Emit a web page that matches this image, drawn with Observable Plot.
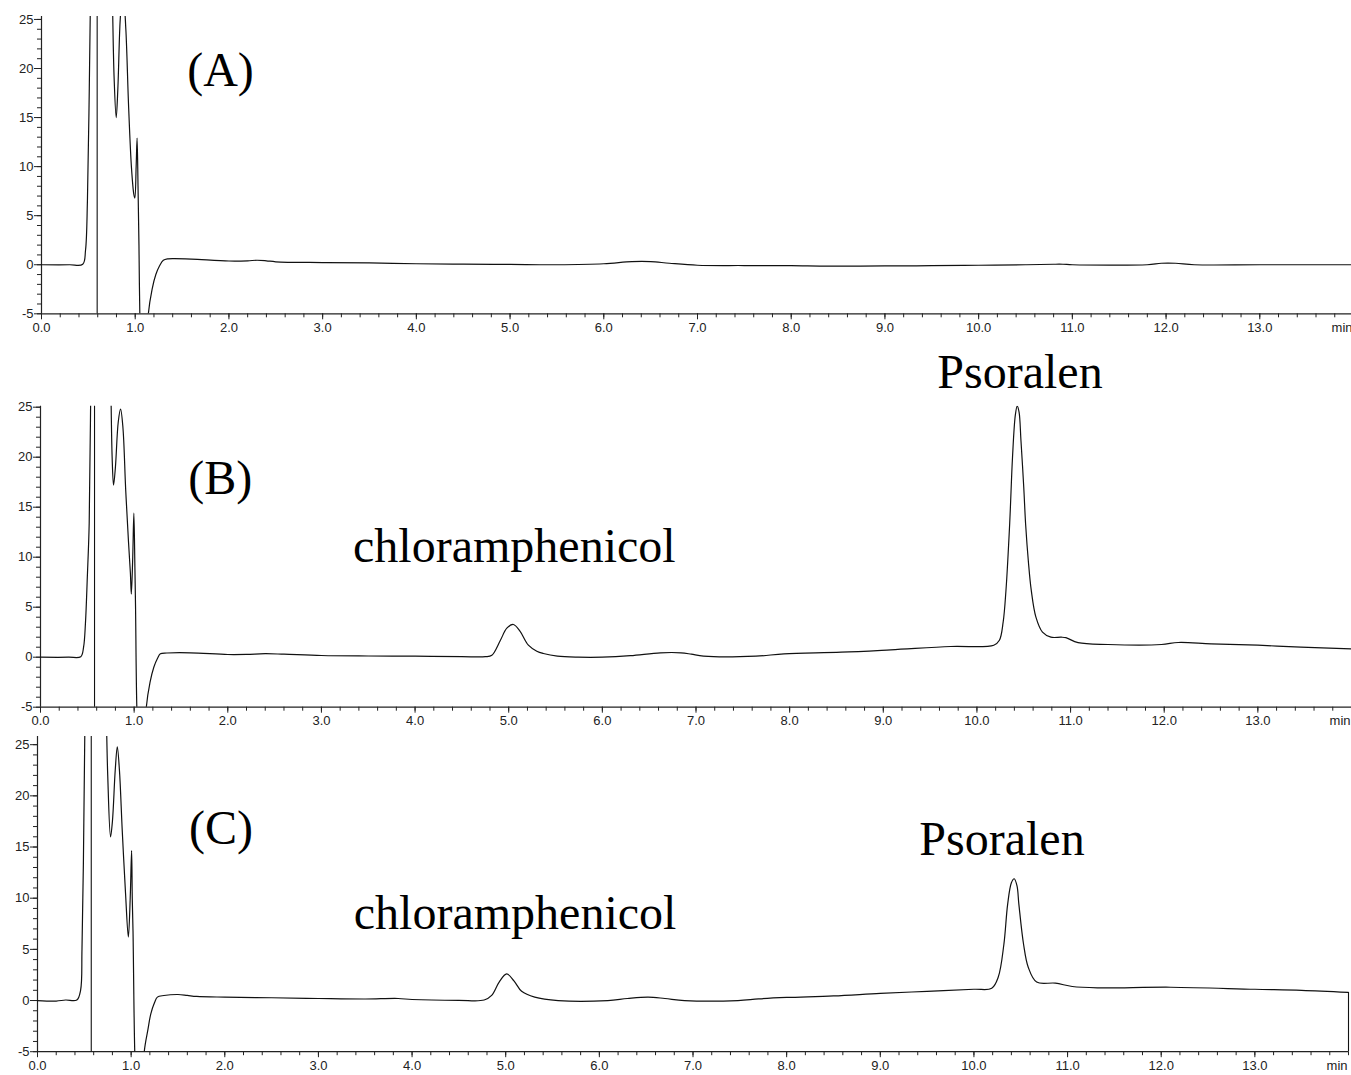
<!DOCTYPE html>
<html>
<head>
<meta charset="utf-8">
<script src="https://cdn.jsdelivr.net/npm/d3@7"></script>
<script src="https://cdn.jsdelivr.net/npm/@observablehq/plot@0.6"></script>
<style>
  html, body { margin: 0; padding: 0; background: white; }
  #wrap { position: relative; width: 1351px; height: 1075px; overflow: hidden; background: white; }
  #wrap > div { position: absolute; left: 0; }
</style>
</head>
<body>
<div id="wrap">
  <div id="pa" style="top:0px"></div>
  <div id="pb" style="top:340px"></div>
  <div id="pc" style="top:730px"></div>
</div>
<script>
// ---------- data ----------
const xTickValues = [0,1,2,3,4,5,6,7,8,9,10,11,12,13];
const xTickLabels = ["0.0","1.0","2.0","3.0","4.0","5.0","6.0","7.0","8.0","9.0","10.0","11.0","12.0","13.0"];
const yTickValues = [-5,0,5,10,15,20,25];
const yTickLabels = ["-5","0","5","10","15","20","25"];
const xUnitLabel = "min";

// Panel A (blank)
const timeA = [0,0.3,0.44,0.47,0.49,0.51,0.53,0.56,0.72,0.755,0.775,0.797,0.815,0.84,0.86,0.88,0.9,0.93,0.96,0.985,0.996,1.01,1.02,1.03,1.04,1.05,1.07,1.12,1.14,1.18,1.22,1.26,1.3,1.35,1.41,1.6,2.0,2.2,2.3,2.4,2.5,3.0,3.5,4.0,4.5,5.0,5.5,6.0,6.3,6.5,6.7,7.0,7.5,8.0,8.4,9.0,9.5,10.0,10.5,10.8,10.9,11.0,11.8,11.95,12.1,12.3,13.0,14.0];
const signalA = [0,0,0.05,1.5,6.5,18,32,45,45,28,19,15,18,25,27,26.5,24,16,9.9,7.2,6.8,10,12.9,8,2,-5.5,-12,-10,-5,-2.5,-1,-0.1,0.45,0.6,0.63,0.58,0.38,0.4,0.46,0.4,0.3,0.22,0.18,0.1,0.06,0.03,0,0.1,0.32,0.32,0.15,-0.05,-0.08,-0.1,-0.15,-0.12,-0.1,-0.05,0,0.05,0.05,0,0,0.15,0.15,0,0,0];

// Panel B (standard)
const timeB = [0,0.3,0.43,0.46,0.48,0.5,0.52,0.54,0.56,0.72,0.75,0.765,0.78,0.8,0.83,0.855,0.88,0.91,0.94,0.96,0.97,0.985,0.997,1.008,1.015,1.03,1.06,1.11,1.13,1.17,1.21,1.25,1.28,1.35,1.6,2.0,2.2,2.4,2.6,3.0,3.5,4.0,4.5,4.75,4.82,4.91,4.98,5.05,5.12,5.21,5.3,5.37,5.52,5.74,6.0,6.3,6.62,6.84,6.95,7.08,7.64,7.94,8.55,9.08,9.72,10.18,10.24,10.28,10.31,10.35,10.38,10.41,10.43,10.45,10.47,10.5,10.52,10.55,10.58,10.63,10.7,10.79,10.9,10.95,11.08,11.4,11.97,12.15,12.5,13.0,13.46,14.0];
const signalB = [0,0,0.05,1,3.4,8,13.4,30,45,45,28,20,17.2,19,23.5,24.8,23,16.7,11.5,8.4,6.3,10,14.4,9,5,-5.5,-12,-10,-5,-2.5,-1,-0.1,0.34,0.42,0.44,0.27,0.28,0.35,0.3,0.17,0.12,0.1,0.06,0.05,0.2,1.67,2.9,3.27,2.6,1.2,0.6,0.37,0.1,0,0,0.15,0.44,0.44,0.3,0.1,0.1,0.34,0.5,0.74,1.07,1.2,1.7,3.5,6.67,13.4,20,24.2,25.1,24.5,21.7,17,13.3,9.5,6.7,4.0,2.5,2.0,2.0,1.95,1.45,1.27,1.27,1.47,1.34,1.2,1.0,0.84];

// Panel C (sample)
const timeC = [0,0.2,0.3,0.42,0.46,0.475,0.49,0.505,0.52,0.7,0.735,0.75,0.78,0.8,0.83,0.852,0.875,0.905,0.94,0.97,0.99,1.005,1.012,1.02,1.04,1.07,1.12,1.14,1.18,1.21,1.25,1.28,1.35,1.5,1.6,1.7,2.0,2.5,3.0,3.5,3.85,4.0,4.5,4.77,4.85,4.93,5.01,5.09,5.17,5.31,5.56,6.09,6.3,6.52,6.7,6.91,7.48,7.7,8.0,8.5,9.0,9.5,10.0,10.19,10.26,10.32,10.36,10.4,10.43,10.46,10.48,10.53,10.58,10.67,10.87,11.05,11.33,12.1,13.0,13.5,14.0];
const signalC = [0,-0.05,0.05,0.05,1.0,5,13.4,26,45,45,28,22,16,17.5,22.5,24.8,22.5,16.6,10.5,6.2,10,14.65,10,6.8,-5.5,-12,-10,-5,-2.8,-1.3,-0.2,0.33,0.49,0.59,0.5,0.4,0.33,0.27,0.2,0.15,0.2,0.1,0.02,0.05,0.5,1.8,2.6,1.9,0.9,0.33,0,0,0.2,0.33,0.2,0,0,0.16,0.3,0.45,0.7,0.9,1.1,1.2,2.3,5.5,9.4,11.5,11.9,11.2,9.4,5.5,3.25,1.8,1.7,1.37,1.24,1.3,1.1,1.0,0.8];
const endDropC = 0.8;

// vertical event marker line in each trace (min)
const markerTimes = [0.594, 0.577, 0.574];

// annotations
const labelsA = ["(A)"];
const labelTimesA = [1.91];
const labelValuesA = [18.2];
const labelsB = ["(B)", "chloramphenicol", "Psoralen"];
const labelTimesB = [1.92, 5.06, 10.46];
const labelValuesB = [16.3, 9.5, 26.9];
const labelsC = ["(C)", "chloramphenicol", "Psoralen"];
const labelTimesC = [1.96, 5.10, 10.30];
const labelValuesC = [15.3, 7.0, 14.2];

// ---------- drawing ----------
const xMinor = d3.range(0, 14.001, 0.2);
const yMinor = d3.range(-5, 26, 1);
const fmtX = d => xTickLabels[xTickValues.indexOf(d)] ?? "";
const fmtY = d => yTickLabels[yTickValues.indexOf(d)] ?? "";

function zip(ts, vs) { return ts.map((t, i) => ({t, v: vs[i]})); }
function zipLabels(ls, ts, vs) { return ls.map((label, i) => ({label, t: ts[i], v: vs[i]})); }

function panel({trace, marker, labels, width, height, marginTop, marginBottom, marginLeft, marginRight, yMax, endDrop}) {
  const marks = [
    Plot.axisY(yMinor, {tickSize: 4, tickFormat: () => "", label: null, stroke: "#222"}),
    Plot.axisY(yTickValues, {tickSize: 7, tickPadding: 1, tickFormat: fmtY, label: null, stroke: "#222", fill: "#222"}),
    Plot.axisX(xMinor, {tickSize: 4, tickFormat: () => "", label: null, stroke: "#222"}),
    Plot.axisX(xTickValues, {tickSize: 6, tickPadding: 3, tickFormat: fmtX, label: null, stroke: "#222", fill: "#222"}),
    Plot.text([xUnitLabel], {x: 14, y: -5, text: d => d, textAnchor: "end", lineAnchor: "top", dx: -1, dy: 9, fill: "#222"}),
    Plot.ruleY([-5], {stroke: "#222", strokeWidth: 1.2}),
    Plot.ruleX([0], {y1: -5, y2: yMax, stroke: "#222", strokeWidth: 1.2}),
    Plot.ruleX([marker], {y1: -5, y2: yMax, stroke: "#111", strokeWidth: 1.1}),
    Plot.line(trace, {x: "t", y: "v", curve: "catmull-rom", clip: true, stroke: "#111", strokeWidth: 1.2}),
    Plot.text(labels, {x: "t", y: "v", text: "label", textAnchor: "middle", lineAnchor: "bottom",
      fontFamily: "'Liberation Serif', 'Times New Roman', serif", fontSize: 48, fill: "#000"})
  ];
  if (endDrop != null) marks.push(Plot.ruleX([14], {y1: -5, y2: endDrop, stroke: "#111", strokeWidth: 1.1}));
  return Plot.plot({
    width, height, marginTop, marginBottom, marginLeft, marginRight,
    x: {domain: [0, 14], label: null},
    y: {domain: [-5, yMax], label: null},
    style: {fontFamily: "'Liberation Sans', Arial, sans-serif", fontSize: "13px", color: "#222",
      background: "transparent", overflow: "visible", maxWidth: "none"},
    marks
  });
}

document.getElementById("pa").appendChild(panel({
  trace: zip(timeA, signalA), marker: markerTimes[0], labels: zipLabels(labelsA, labelTimesA, labelValuesA),
  width: 1353, height: 340, marginTop: 16, marginBottom: 26.7, marginLeft: 41, marginRight: 0, yMax: 25.3
}));
document.getElementById("pb").appendChild(panel({
  trace: zip(timeB, signalB), marker: markerTimes[1], labels: zipLabels(labelsB, labelTimesB, labelValuesB),
  width: 1351, height: 390, marginTop: 65.7, marginBottom: 23.3, marginLeft: 40, marginRight: 0, yMax: 25.1
}));
document.getElementById("pc").appendChild(panel({
  trace: zip(timeC, signalC), marker: markerTimes[2], labels: zipLabels(labelsC, labelTimesC, labelValuesC),
  width: 1351, height: 345, marginTop: 6, marginBottom: 23.8, marginLeft: 37, marginRight: 3, yMax: 25.8, endDrop: endDropC
}));
</script>
</body>
</html>
